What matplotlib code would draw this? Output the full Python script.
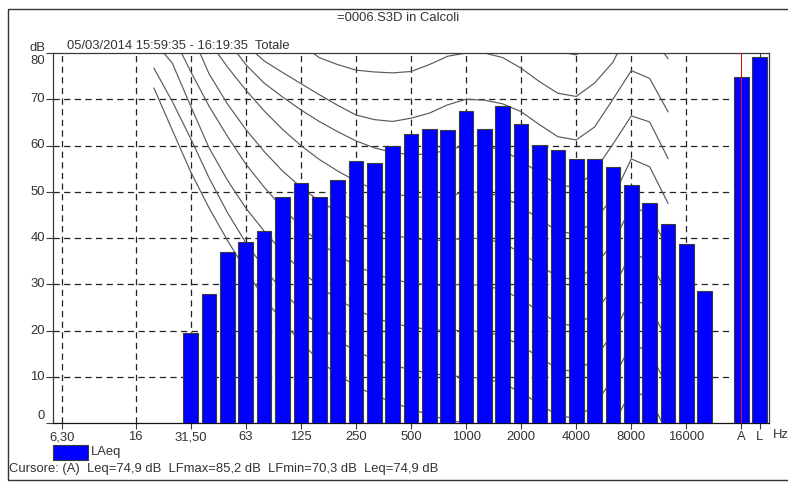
import matplotlib
matplotlib.use("Agg")
import matplotlib.pyplot as plt
from matplotlib.patches import Rectangle
from matplotlib.transforms import blended_transform_factory

plt.rcParams['font.family'] = ['Liberation Sans', 'DejaVu Sans']
plt.rcParams['font.size'] = 9.4

# third-octave band centres shown on the x axis (category positions)
bands = ["6,30", "8", "10", "12,5", "16", "20", "25", "31,50", "40", "50", "63",
         "80", "100", "125", "160", "200", "250", "315", "400", "500", "630",
         "800", "1000", "1250", "1600", "2000", "2500", "3150", "4000", "5000",
         "6300", "8000", "10000", "12500", "16000", "20000", "", "A", "L"]
labelled = ["6,30", "16", "31,50", "63", "125", "250", "500", "1000", "2000",
            "4000", "8000", "16000", "A", "L"]
gridded = labelled[:-2]

# LAeq spectrum, 31.5 Hz .. 20 kHz
spectrum_bands = bands[7:36]
laeq = [19.4, 28.0, 37.0, 39.2, 41.6, 48.9, 52.0, 48.8, 52.5, 56.6, 56.3, 59.9,
        62.5, 63.6, 63.4, 67.5, 63.6, 68.5, 64.7, 60.1, 59.0, 57.0, 57.0, 55.4,
        51.5, 47.6, 43.0, 38.8, 28.5]

# broadband totals
total_bands = ["A", "L"]
total_levels = [74.9, 79.2]
lfmax_a = 85.2
lfmin_a = 70.3

# equal-loudness contours, 20 Hz .. 12.5 kHz
contour_bands = bands[5:34]
contours = {
    0:  [72.4, 63.3, 54.3, 46.5, 39.5, 33.0, 27.0, 22.0, 17.5, 13.5, 10.5, 8.0, 6.0, 4.5,
         3.0, 1.8, 0.6, 0.0, -0.5, -1.5, -3.5, -6.0, -8.5, -9.0, -6.0, -0.5, 7.0, 5.5, -2.5],
    10: [76.7, 69.5, 61.5, 53.0, 45.5, 39.0, 33.5, 28.5, 24.5, 21.0, 18.0, 15.5, 13.8, 12.5,
         11.5, 10.8, 10.2, 10.0, 9.6, 8.6, 6.6, 4.1, 1.6, 1.0, 4.0, 9.5, 17.0, 15.5, 7.5],
    20: [82.5, 77.8, 68.5, 59.5, 52.5, 46.5, 41.5, 37.0, 33.0, 29.5, 26.8, 24.5, 22.8, 21.5,
         20.8, 20.2, 20.0, 20.0, 19.7, 18.8, 16.7, 14.2, 11.7, 11.0, 14.0, 19.3, 26.8, 25.3, 17.5],
    30: [88.0, 84.0, 76.0, 68.5, 62.0, 56.0, 51.0, 46.5, 42.5, 39.0, 36.3, 34.0, 32.3, 31.0,
         30.3, 29.8, 29.8, 30.0, 29.7, 28.8, 26.7, 24.1, 21.6, 20.9, 23.9, 29.1, 36.7, 35.2, 27.5],
    40: [93.0, 89.0, 84.6, 75.5, 69.0, 63.5, 58.7, 54.5, 51.0, 48.0, 45.7, 43.5, 41.8, 40.5,
         40.0, 39.5, 39.5, 40.0, 39.8, 38.9, 36.8, 34.1, 31.6, 30.9, 33.9, 38.9, 46.8, 45.3, 37.5],
    50: [98.0, 93.5, 88.5, 82.5, 77.0, 72.0, 67.5, 63.5, 60.0, 57.0, 54.5, 52.3, 50.5, 49.5,
         49.0, 48.7, 49.0, 50.0, 49.8, 49.0, 46.8, 44.0, 41.5, 40.8, 43.8, 48.8, 57.1, 55.4, 47.5],
    60: [103.0, 98.5, 94.0, 88.5, 82.8, 77.5, 73.5, 70.5, 67.7, 65.2, 63.0, 61.0, 59.5, 58.5,
         58.0, 58.2, 59.0, 60.0, 59.9, 59.0, 56.7, 54.0, 51.5, 50.9, 54.5, 60.3, 66.4, 65.1, 57.2],
    70: [108.0, 104.0, 100.0, 95.0, 87.5, 81.8, 78.3, 75.8, 73.4, 71.0, 68.7, 66.6, 65.6, 65.2,
         65.9, 67.0, 68.8, 70.0, 69.8, 69.0, 67.3, 64.5, 61.9, 61.2, 64.0, 70.0, 76.2, 74.5, 67.3],
    80: [113.0, 110.0, 106.0, 102.0, 97.0, 92.0, 88.0, 85.0, 82.0, 79.0, 77.5, 76.3, 75.9, 75.7,
         76.0, 77.5, 79.3, 80.0, 80.0, 79.0, 76.7, 73.8, 71.3, 70.6, 73.5, 78.0, 86.0, 84.0, 78.8],
    90: [118.0, 115.0, 112.0, 108.0, 104.0, 100.0, 97.0, 94.0, 92.0, 90.0, 88.0, 87.0, 86.5, 86.3,
         86.5, 87.5, 89.0, 90.0, 90.0, 89.0, 86.3, 83.0, 80.3, 79.6, 82.5, 88.0, 96.0, 94.0, 89.0],
}

yticks = [0, 10, 20, 30, 40, 50, 60, 70, 80]

W, H = 788, 483
fig = plt.figure(figsize=(W / 100, H / 100), dpi=100)
fig.patch.set_facecolor("white")
ax = fig.add_axes([53 / W, 1 - 423 / H, 716 / W, 370 / H])

pos = {b: i for i, b in enumerate(bands)}
edge = "#3a3a3a"
ink = "#222222"
txt = "#333333"

# dashed grid
for b in gridded:
    ax.axvline(pos[b], color=ink, lw=0.9, ls=(0, (5, 3.5)), zorder=1)
ax.hlines(yticks[1:-1], -0.5, 36.45, colors=ink, lw=0.9, linestyles=(0, (5, 3.5)), zorder=1)

# contours
cx = [pos[b] for b in contour_bands]
for lvl, vals in contours.items():
    ax.plot(cx, vals, color="#5a5a5a", lw=0.85, zorder=2)

# bars
ax.bar([pos[b] for b in spectrum_bands], laeq, width=0.8, color="#0000ff",
       edgecolor=edge, linewidth=0.8, zorder=3)
ax.bar([pos[b] for b in total_bands], total_levels, width=0.8, color="#0000ff",
       edgecolor=edge, linewidth=0.8, zorder=3)

# cursor on the A-weighted total
ax.axvline(pos["A"], color="#e01010", lw=0.8, zorder=4)
tr = blended_transform_factory(ax.transData, ax.transAxes)
ax.plot([pos["L"], pos["L"]], [1.0, 0.988], color=edge, lw=0.8, transform=tr, zorder=4)

ax.set_xlim(-0.5, 38.5)
ax.set_ylim(0, 80)

ax.set_xticks([pos[b] for b in labelled])
ax.set_xticklabels(labelled)
ax.tick_params(axis="x", direction="out", length=4, width=0.8, color=edge, pad=2,
               labelcolor=txt)
ax.set_yticks(yticks)
ax.set_yticklabels([])
ax.tick_params(axis="y", direction="out", length=5, width=0.8, color=edge)
for v in yticks:
    dy = -8 if v == yticks[-1] else (7 if v == yticks[0] else 0)
    ax.annotate(str(v), xy=(0, v), xycoords=("axes fraction", "data"),
                xytext=(-8, dy), textcoords="offset pixels", ha="right", va="center",
                color=txt, annotation_clip=False)

for s in ax.spines.values():
    s.set_color(edge)
    s.set_linewidth(0.9)
ax.spines["bottom"].set_color("#111111")

# header texts
fig.text(398 / W, 1 - 18 / H, "=0006.S3D in Calcoli", ha="center", va="center", color=txt)
fig.text(45 / W, 1 - 48 / H, "dB", ha="right", va="center", color=txt)
fig.text(67 / W, 1 - 46 / H, "05/03/2014 15:59:35 - 16:19:35  Totale", ha="left",
         va="center", color=txt)
fig.text(773 / W, 1 - 435 / H, "Hz", ha="left", va="center", color=txt)

# legend
fig.patches.append(Rectangle((53 / W, 1 - 460 / H), 35 / W, 15 / H, transform=fig.transFigure,
                             facecolor="#0000ff", edgecolor=edge, linewidth=0.8))
fig.text(91 / W, 1 - 452 / H, "LAeq", ha="left", va="center", color=txt)


def fmt(v):
    return f"{v:.1f}".replace(".", ",")


leq_a = total_levels[0]
cursor = (f"Cursore: (A)  Leq={fmt(leq_a)} dB  LFmax={fmt(lfmax_a)} dB  "
          f"LFmin={fmt(lfmin_a)} dB  Leq={fmt(leq_a)} dB")
fig.text(9 / W, 1 - 469 / H, cursor, ha="left", va="center", color=txt)

# outer frame
fig.patches.append(Rectangle((8 / W, 1 - 480 / H), 800 / W, 471 / H, transform=fig.transFigure,
                             facecolor="none", edgecolor="#333333", linewidth=1.0))

fig.savefig("out.png", dpi=100)
